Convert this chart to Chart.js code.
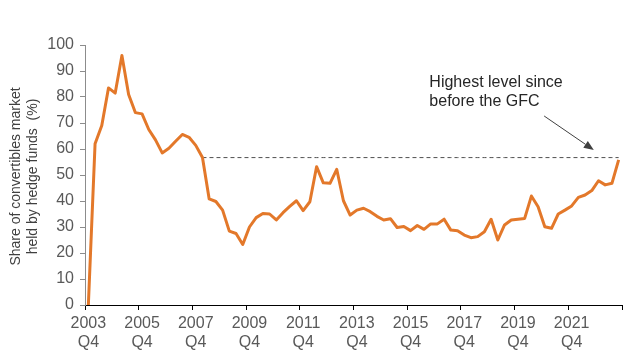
<!DOCTYPE html>
<html><head><meta charset="utf-8">
<script src="https://cdn.jsdelivr.net/npm/chart.js@4/dist/chart.umd.min.js"></script>
<style>html,body{margin:0;padding:0;background:#fff;overflow:hidden}#wrap{width:637px;height:363px}</style>
</head><body><div id="wrap"><canvas id="c" width="637" height="363"></canvas></div>
<script>
const quarters = [
  "2003 Q4",
  "2004 Q1","2004 Q2","2004 Q3","2004 Q4",
  "2005 Q1","2005 Q2","2005 Q3","2005 Q4",
  "2006 Q1","2006 Q2","2006 Q3","2006 Q4",
  "2007 Q1","2007 Q2","2007 Q3","2007 Q4",
  "2008 Q1","2008 Q2","2008 Q3","2008 Q4",
  "2009 Q1","2009 Q2","2009 Q3","2009 Q4",
  "2010 Q1","2010 Q2","2010 Q3","2010 Q4",
  "2011 Q1","2011 Q2","2011 Q3","2011 Q4",
  "2012 Q1","2012 Q2","2012 Q3","2012 Q4",
  "2013 Q1","2013 Q2","2013 Q3","2013 Q4",
  "2014 Q1","2014 Q2","2014 Q3","2014 Q4",
  "2015 Q1","2015 Q2","2015 Q3","2015 Q4",
  "2016 Q1","2016 Q2","2016 Q3","2016 Q4",
  "2017 Q1","2017 Q2","2017 Q3","2017 Q4",
  "2018 Q1","2018 Q2","2018 Q3","2018 Q4",
  "2019 Q1","2019 Q2","2019 Q3","2019 Q4",
  "2020 Q1","2020 Q2","2020 Q3","2020 Q4",
  "2021 Q1","2021 Q2","2021 Q3","2021 Q4",
  "2022 Q1","2022 Q2","2022 Q3","2022 Q4",
  "2023 Q1","2023 Q2","2023 Q3"
];
const hedgeFundShare = [
  0,
  62, 69, 83.5, 81.5,
  96, 81, 74, 73.5,
  67.5, 63.5, 58.5, 60.3,
  63, 65.6, 64.5, 61.4,
  56.7, 40.8, 39.8, 36.5,
  28.4, 27.5, 23.3, 30,
  33.6, 35.2, 35, 32.7,
  35.5, 37.9, 40.1, 36.3,
  39.7, 53.2, 47, 46.8,
  52.2, 40.1, 34.6, 36.5,
  37.2, 35.9, 34.1, 32.7,
  33.2, 29.8, 30.2, 28.6,
  30.6, 29.1, 31.2, 31.2,
  33, 28.8, 28.6, 26.9,
  25.9, 26.3, 28.2, 33,
  25, 30.8, 32.7, 33,
  33.3, 41.9, 37.8, 30.1,
  29.5, 35, 36.5, 38.1,
  41.4, 42.3, 44, 47.8,
  46.2, 46.8, 55.8
];
const tickYears = ["2003","2005","2007","2009","2011","2013","2015","2017","2019","2021"];
const tickQuarter = "Q4";
const tickEvery = 8;
const yTicks = [0,10,20,30,40,50,60,70,80,90,100];

const gfcLevel = 56.7;          // pre-GFC level (2008 Q1)
const gfcStartIndex = 17;
const gfcLine = quarters.map((q, i) => i >= gfcStartIndex ? gfcLevel : null);

const yTitle = ["Share of convertibles market", "held by hedge funds  (%)"];
const annotationLines = ["Highest level since", "before the GFC"];
const annotationAt = {index: 50.8, value: 85.5};
const arrowFrom = {index: 67.9, value: 72.7};
const arrowTo = {index: 75.3, value: 59.6};

const FONT = "'Liberation Sans', Arial, sans-serif";

const yTitlePlugin = {
  id: 'ytitle',
  afterDraw(chart) {
    const {ctx, scales: {y}} = chart;
    ctx.save();
    ctx.fillStyle = '#404040';
    ctx.font = `14px ${FONT}`;
    ctx.textAlign = 'center';
    ctx.textBaseline = 'middle';
    const cy = (y.top + y.bottom) / 2 + 1.5;
    yTitle.forEach((t, i) => {
      ctx.save();
      ctx.translate(16 + i * 17, cy);
      ctx.rotate(-Math.PI / 2);
      ctx.fillText(t, 0, 0);
      ctx.restore();
    });
    ctx.restore();
  }
};

const annotationPlugin = {
  id: 'annot',
  afterDatasetsDraw(chart) {
    const {ctx, scales: {x, y}} = chart;
    ctx.save();
    ctx.fillStyle = '#262626';
    ctx.font = `16px ${FONT}`;
    ctx.textBaseline = 'middle';
    ctx.textAlign = 'left';
    const tx = x.getPixelForValue(annotationAt.index);
    const ty = y.getPixelForValue(annotationAt.value);
    annotationLines.forEach((l, i) => ctx.fillText(l, tx, ty + i * 19));
    const x1 = x.getPixelForValue(arrowFrom.index), y1 = y.getPixelForValue(arrowFrom.value);
    const x2 = x.getPixelForValue(arrowTo.index), y2 = y.getPixelForValue(arrowTo.value);
    ctx.strokeStyle = '#404040';
    ctx.fillStyle = '#404040';
    ctx.lineWidth = 1;
    const ang = Math.atan2(y2 - y1, x2 - x1);
    const hl = 10, hw = 4;
    ctx.beginPath();
    ctx.moveTo(x1, y1);
    ctx.lineTo(x2 - hl * Math.cos(ang), y2 - hl * Math.sin(ang));
    ctx.stroke();
    ctx.beginPath();
    ctx.moveTo(x2, y2);
    ctx.lineTo(x2 - hl * Math.cos(ang) + hw * Math.sin(ang), y2 - hl * Math.sin(ang) - hw * Math.cos(ang));
    ctx.lineTo(x2 - hl * Math.cos(ang) - hw * Math.sin(ang), y2 - hl * Math.sin(ang) + hw * Math.cos(ang));
    ctx.closePath();
    ctx.fill();
    ctx.restore();
  }
};

new Chart(document.getElementById('c'), {
  type: 'line',
  data: {
    labels: quarters,
    datasets: [
      {
        data: hedgeFundShare,
        borderColor: '#E3782A',
        borderWidth: 3,
        pointRadius: 0,
        tension: 0,
        borderJoinStyle: 'round',
        order: 1
      },
      {
        data: gfcLine,
        borderColor: '#505050',
        borderWidth: 1,
        borderDash: [4, 3],
        pointRadius: 0,
        spanGaps: false,
        order: 2
      }
    ]
  },
  options: {
    responsive: false,
    animation: false,
    devicePixelRatio: 1,
    layout: {padding: {left: 0, top: 45, right: 15, bottom: 0}},
    plugins: {legend: {display: false}, tooltip: {enabled: false}},
    scales: {
      x: {
        type: 'category',
        offset: true,
        grid: {
          display: true,
          offset: true,
          drawOnChartArea: false,
          tickLength: 5,
          color: (ctx) => (ctx.index === undefined || ctx.index % tickEvery === 0) ? '#000' : 'rgba(0,0,0,0)'
        },
        border: {display: true, color: '#000', width: 1},
        ticks: {
          autoSkip: false,
          maxRotation: 0,
          minRotation: 0,
          padding: 4,
          color: '#595959',
          font: {family: FONT, size: 16, lineHeight: 1.2},
          callback: (v, i) => i % tickEvery === 0 ? [tickYears[i / tickEvery], tickQuarter] : ''
        },
        afterFit: (s) => { s.height = 58; }
      },
      y: {
        min: 0, max: 100,
        afterBuildTicks: (s) => { s.ticks = yTicks.map(v => ({value: v})); },
        grid: {display: true, drawOnChartArea: false, tickLength: 5, color: '#8c8c8c'},
        border: {display: true, color: '#8c8c8c', width: 1},
        ticks: {
          padding: 6,
          color: '#595959',
          font: {family: FONT, size: 16}
        },
        title: {display: false},
        afterFit: (s) => { s.width = 85; }
      }
    }
  },
  plugins: [annotationPlugin, yTitlePlugin]
});
</script>
</body></html>
